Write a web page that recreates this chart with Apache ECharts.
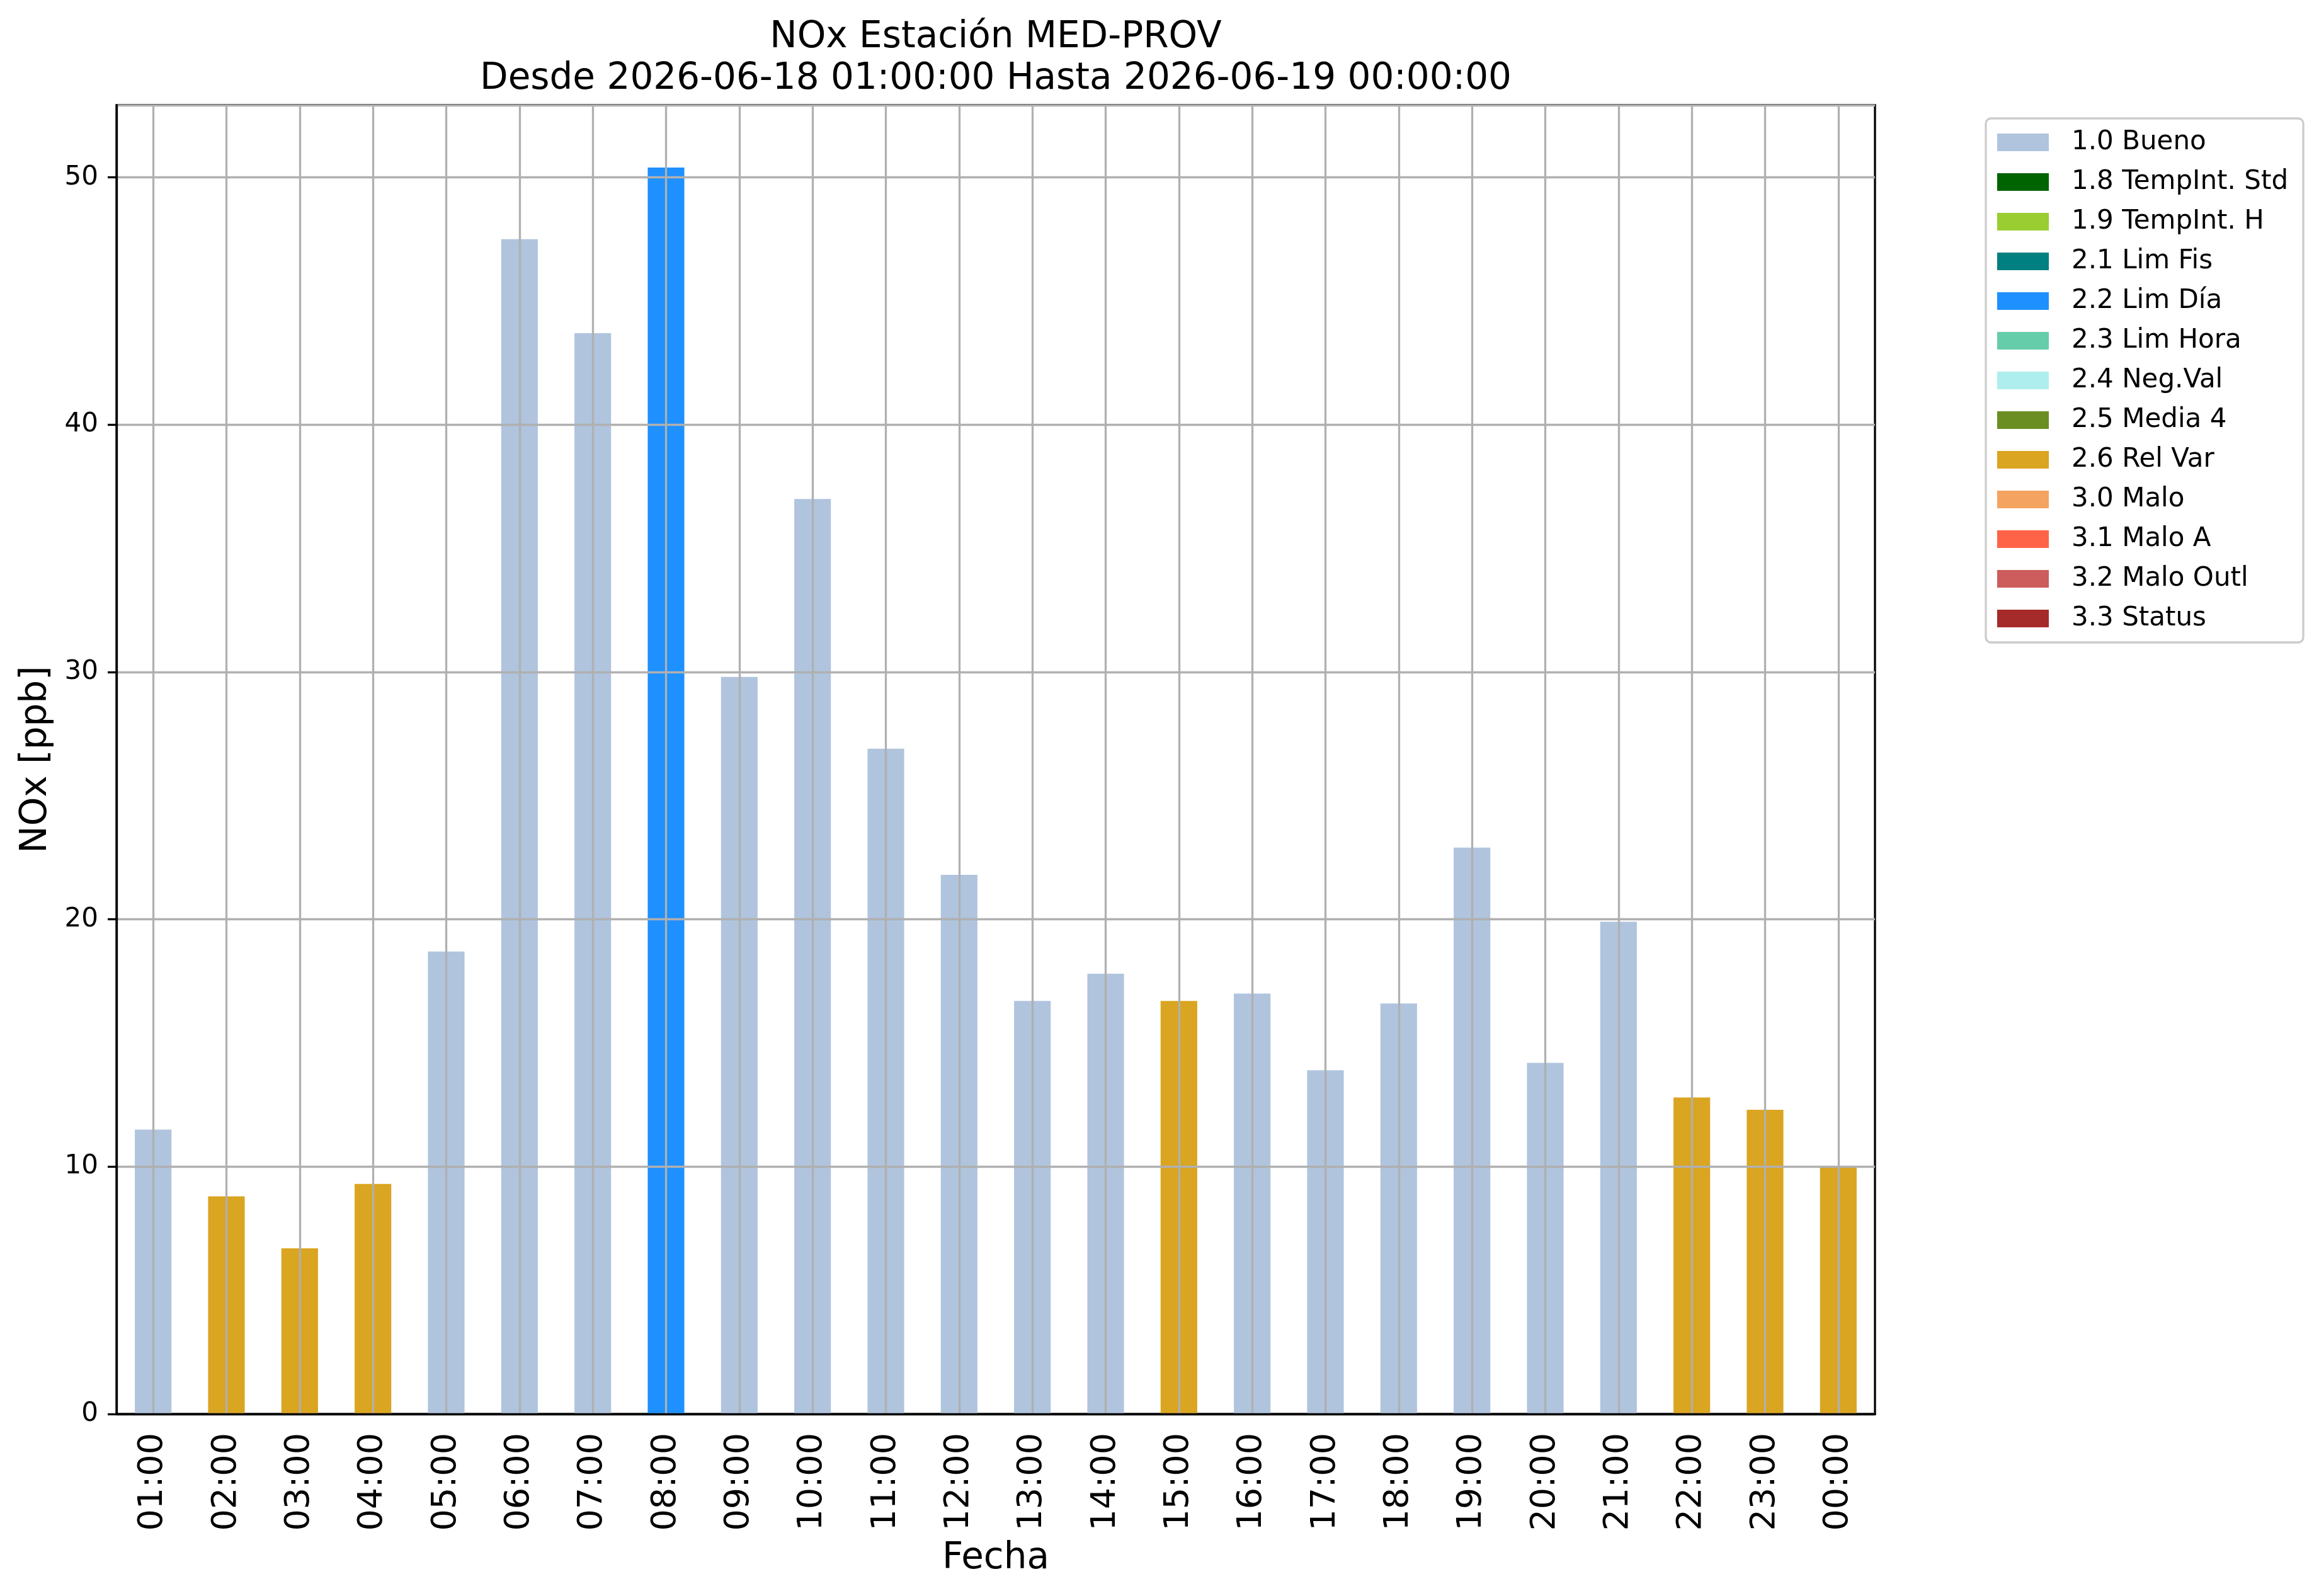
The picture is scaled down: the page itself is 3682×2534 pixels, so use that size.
<!DOCTYPE html>
<html>
<head>
<meta charset="utf-8">
<title>NOx Estación MED-PROV</title>
<script src="https://cdn.jsdelivr.net/npm/echarts@6/dist/echarts.min.js"></script>
<style>
  html, body { margin: 0; padding: 0; background: #fff; }
  #chart { width: 3682px; height: 2534px; }
</style>
</head>
<body>
<div id="chart"></div>
<script>
// horas del periodo
const hours = [
  "01:00", "02:00", "03:00", "04:00", "05:00", "06:00", "07:00", "08:00",
  "09:00", "10:00", "11:00", "12:00", "13:00", "14:00", "15:00", "16:00",
  "17:00", "18:00", "19:00", "20:00", "21:00", "22:00", "23:00", "00:00"
];

// NOx [ppb] por hora
const noxValues = [
  11.5, 8.8, 6.7, 9.3, 18.7, 47.5, 43.7, 50.4,
  29.8, 37.0, 26.9, 21.8, 16.7, 17.8, 16.7, 17.0,
  13.9, 16.6, 22.9, 14.2, 19.9, 12.8, 12.3, 10.0
];

// bandera de validacion de cada hora
const flagCodes = [
  "1.0", "2.6", "2.6", "2.6", "1.0", "1.0", "1.0", "2.2",
  "1.0", "1.0", "1.0", "1.0", "1.0", "1.0", "2.6", "1.0",
  "1.0", "1.0", "1.0", "1.0", "1.0", "2.6", "2.6", "2.6"
];

const flagNames = [
  "1.0 Bueno", "1.8 TempInt. Std", "1.9 TempInt. H", "2.1 Lim Fis",
  "2.2 Lim Día", "2.3 Lim Hora", "2.4 Neg.Val", "2.5 Media 4",
  "2.6 Rel Var", "3.0 Malo", "3.1 Malo A", "3.2 Malo Outl", "3.3 Status"
];

const flagColors = [
  "#b0c4de", "#006400", "#9acd32", "#008080",
  "#1e90ff", "#66cdaa", "#afeeee", "#6b8e23",
  "#daa520", "#f4a460", "#ff6347", "#cd5c5c", "#a52a2a"
];

const yTicks = [0, 10, 20, 30, 40, 50];

const FONT = "DejaVu Sans";

const chart = echarts.init(document.getElementById("chart"), null, {
  renderer: "canvas",
  devicePixelRatio: 1
});

// una serie por bandera, apiladas para compartir la posicion
const series = flagNames.map((name, k) => {
  const code = name.split(" ")[0];
  return {
    name: name,
    type: "bar",
    stack: "flags",
    barWidth: "50%",
    z: 1,
    itemStyle: { color: flagColors[k] },
    data: noxValues.map((v, i) => (flagCodes[i] === code ? v : "-"))
  };
});

const yMax = Math.max(...noxValues) * 1.05;

const option = {
  animation: false,
  backgroundColor: "#fff",
  textStyle: { fontFamily: FONT },
  graphic: [
    {
      type: "text",
      x: 1581,
      y: 60,
      style: {
        text: "NOx Estación MED-PROV",
        fill: "#000",
        font: "58px '" + FONT + "'",
        textAlign: "center",
        textVerticalAlign: "middle"
      }
    },
    {
      type: "text",
      x: 1581,
      y: 126,
      style: {
        text: "Desde 2026-06-18 01:00:00 Hasta 2026-06-19 00:00:00",
        fill: "#000",
        font: "58px '" + FONT + "'",
        textAlign: "center",
        textVerticalAlign: "middle"
      }
    }
  ],
  grid: {
    left: 185,
    top: 167,
    right: 705,
    bottom: 289,
    show: true,
    borderColor: "#000",
    borderWidth: 3.3,
    backgroundColor: "transparent"
  },
  legend: {
    orient: "vertical",
    left: 3153,
    top: 188,
    icon: "rect",
    itemWidth: 82,
    itemHeight: 28,
    itemGap: 21,
    padding: [17, 24, 17, 18],
    borderColor: "#cccccc",
    borderWidth: 3.3,
    borderRadius: 8,
    backgroundColor: "#fff",
    selectedMode: false,
    textStyle: {
      fontFamily: FONT,
      fontSize: 42,
      color: "#000",
      padding: [0, 0, 0, 31]
    },
    data: flagNames
  },
  xAxis: {
    type: "category",
    data: hours,
    boundaryGap: true,
    z: 3,
    name: "Fecha",
    nameLocation: "middle",
    nameGap: 201,
    nameTextStyle: { fontFamily: FONT, fontSize: 58, color: "#000" },
    axisLine: { lineStyle: { color: "#000", width: 3.3 } },
    axisTick: {
      alignWithLabel: true,
      length: 15,
      lineStyle: { color: "#000", width: 3.3 }
    },
    axisLabel: {
      rotate: 90,
      margin: 30,
      interval: 0,
      fontFamily: FONT,
      fontSize: 54,
      color: "#000"
    },
    splitLine: {
      show: true,
      alignWithLabel: true,
      lineStyle: { color: "#b0b0b0", width: 3.3 }
    }
  },
  yAxis: {
    type: "value",
    min: 0,
    max: yMax,
    interval: 10,
    z: 3,
    name: "NOx [ppb]",
    nameLocation: "middle",
    nameGap: 98,
    nameTextStyle: { fontFamily: FONT, fontSize: 58, color: "#000" },
    axisLine: { show: true, lineStyle: { color: "#000", width: 3.3 } },
    axisTick: { show: true, length: 14, lineStyle: { color: "#000", width: 3.3 } },
    axisLabel: {
      margin: 29,
      fontFamily: FONT,
      fontSize: 42,
      color: "#000",
      showMaxLabel: false,
      formatter: v => (yTicks.indexOf(v) >= 0 ? String(v) : "")
    },
    splitLine: {
      show: true,
      lineStyle: { color: "#b0b0b0", width: 3.3 }
    }
  },
  series: series
};

chart.setOption(option);
</script>
</body>
</html>
